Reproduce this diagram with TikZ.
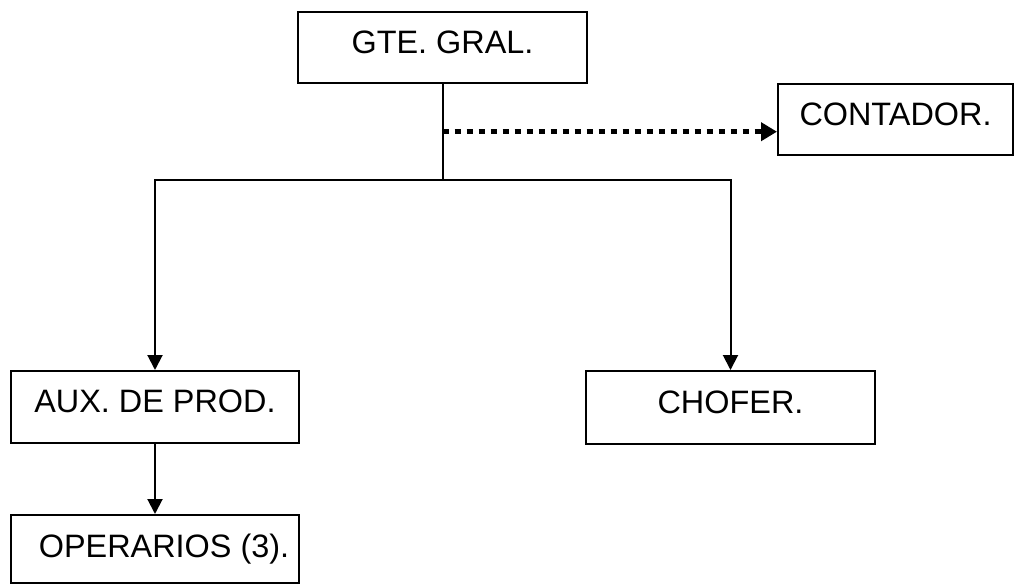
\documentclass[tikz,border=0pt]{standalone}
\usepackage{fontspec}
\setmainfont{Liberation Sans}
\usetikzlibrary{arrows.meta}
\begin{document}
\begin{tikzpicture}[x=0.5pt,y=-0.5pt,
  orgbox/.style={draw,line width=1pt,inner sep=0pt,
    font=\fontsize{16.2}{19}\selectfont,
    text height=11.6pt,text depth=6pt},
  link/.style={line width=1pt},
  down/.style={link,-{Triangle[length=7.5pt,width=7.5pt]}},
  dotlink/.style={line width=2.5pt,dash pattern=on 3pt off 3pt,
    -{Triangle[length=8pt,width=9pt]}}]
\useasboundingbox (0,0) rectangle (1019,584);

% boxes
\node[orgbox,minimum width=144.5pt,minimum height=35.5pt] (gte) at (442.5,47.5) {GTE. GRAL.};
\node[orgbox,minimum width=117.5pt,minimum height=35.5pt] (cont) at (895.5,119.5) {CONTADOR.};
\node[orgbox,minimum width=144pt,minimum height=36pt] (aux) at (155,407) {AUX. DE PROD.};
\node[orgbox,minimum width=144.5pt,minimum height=36.5pt] (chof) at (730.5,407.5) {CHOFER.};
\node[orgbox,text depth=3pt,minimum width=144pt,minimum height=34pt] (oper) at (155,549) {\hspace*{9pt}OPERARIOS (3).};

% junction points on the stem below the manager
\coordinate (adv) at (gte.south |- 0,131.7);
\coordinate (split) at (gte.south |- 0,180);

% connectors
\draw[link] (gte.south) -- (split);
\draw[down] (split) -| (aux.north);
\draw[down] (split) -| (chof.north);
\draw[down] (aux.south) -- (oper.north);
\draw[dotlink] (adv) -- (adv -| cont.west);
\end{tikzpicture}
\end{document}
